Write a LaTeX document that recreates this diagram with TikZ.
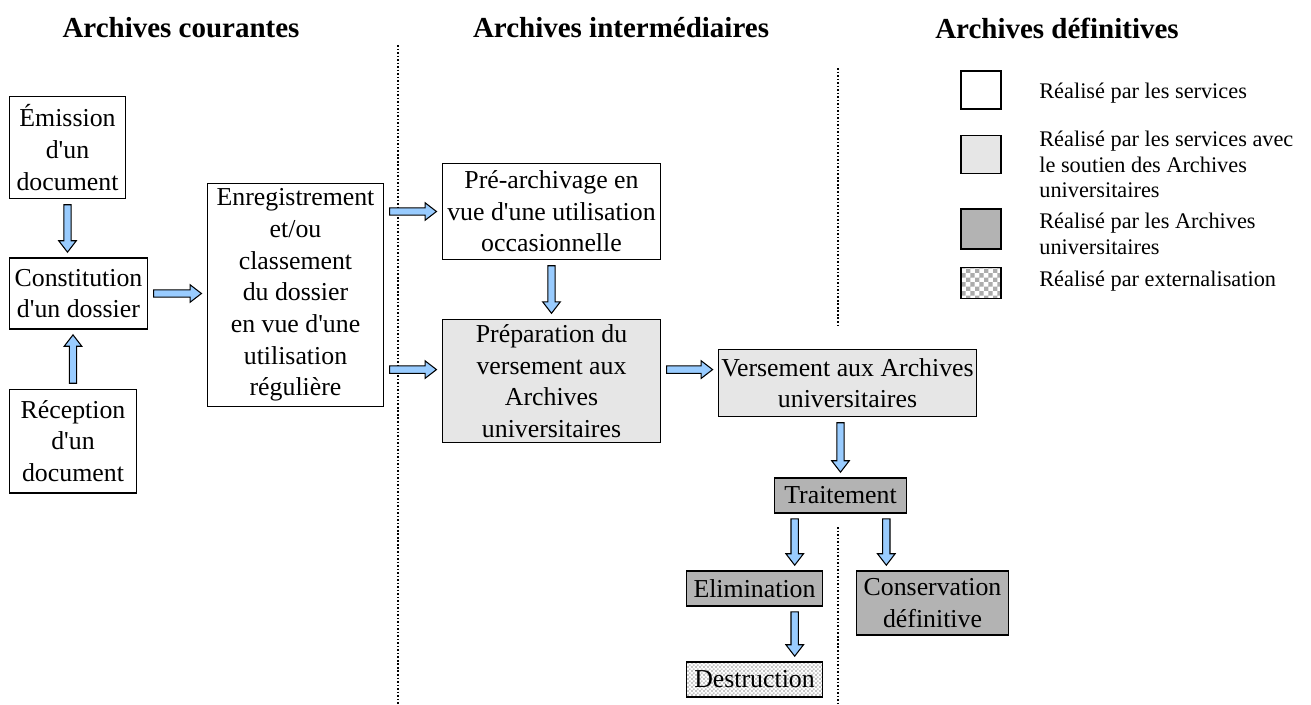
\documentclass[tikz,border=0pt]{standalone}
\usepackage{fontspec}
\setmainfont{Liberation Serif}[Ligatures=TeXOff]
\usetikzlibrary{calc,patterns}
\definecolor{arrowblue}{HTML}{99CCFF}
\definecolor{lightfill}{HTML}{E6E6E6}
\definecolor{darkfill}{HTML}{B3B3B3}
\pgfdeclarepatternformonly{smallchecker}{\pgfqpoint{0pt}{0pt}}{\pgfqpoint{2.4pt}{2.4pt}}{\pgfqpoint{2.4pt}{2.4pt}}{%
  \pgfpathrectangle{\pgfqpoint{0pt}{0pt}}{\pgfqpoint{1.2pt}{1.2pt}}%
  \pgfpathrectangle{\pgfqpoint{1.2pt}{1.2pt}}{\pgfqpoint{1.2pt}{1.2pt}}%
  \pgfusepath{fill}}
\pgfdeclarepatternformonly{legchecker}{\pgfqpoint{0pt}{0pt}}{\pgfqpoint{5pt}{5pt}}{\pgfqpoint{5pt}{5pt}}{%
  \pgfpathrectangle{\pgfqpoint{0pt}{0pt}}{\pgfqpoint{2.5pt}{2.5pt}}%
  \pgfpathrectangle{\pgfqpoint{2.5pt}{2.5pt}}{\pgfqpoint{2.5pt}{2.5pt}}%
  \pgfusepath{fill}}

\begin{document}
\begin{tikzpicture}[x=0.02cm,y=-0.02cm,
  box/.style={draw, line width=0.75pt, align=center, inner sep=0pt, font=\fontsize{14.7}{18}\selectfont},
  title/.style={font=\fontsize{16.5}{20}\selectfont\bfseries},
  legtext/.style={anchor=west, align=left, inner sep=0pt, font=\fontsize{12.7}{14.5}\selectfont},
  legbox/.style={draw, line width=0.75pt, minimum width=22.7pt, inner sep=0pt},
  sep/.style={line width=1pt, dash pattern=on 0.9pt off 1.1pt},
  barrow/.style={draw, fill=arrowblue, line width=0.6pt, to path={
    let \p1=($(\tikztostart)!3pt!(\tikztotarget)$), \p2=($(\tikztotarget)!3pt!(\tikztostart)$),
        \p3=($(\p2)!6.5pt!(\p1)$) in
    ($(\p1)!2.1pt!90:(\p2)$) -- ($(\p3)!2.1pt!-90:(\p1)$) -- ($(\p3)!5pt!-90:(\p1)$) -- (\p2)
    -- ($(\p3)!5pt!90:(\p1)$) -- ($(\p3)!2.1pt!90:(\p1)$) -- ($(\p1)!2.1pt!-90:(\p2)$) -- cycle}}
]
\useasboundingbox (0,0) rectangle (1311,704);

\node[title] (tcour) at (181,28) {Archives courantes};
\node[title] (tinter) at (621,28) {Archives intermédiaires};
\node[title] (tdef) at (1057,28) {Archives définitives};

\draw[sep] (398,45) -- (398,704);
\draw[sep] (838,68) -- (838,327);
\draw[sep] (838,527) -- (838,704);

\node[box, minimum width=66.3pt, minimum height=58.4pt] (emis) at (67.5,147.5) {Émission\\d'un\\document};
\node[box, minimum width=78.8pt, minimum height=40.3pt] (const) at (78.5,293.5) {Constitution\\d'un dossier};
\node[box, minimum width=72.6pt, minimum height=59pt] (recep) at (73,441) {Réception\\d'un\\document};
\node[box, minimum width=100.3pt, minimum height=127pt] (enreg) at (295.5,295) {Enregistrement\\et/ou\\classement\\du dossier\\en vue d'une\\utilisation\\régulière};
\node[box, minimum width=124.2pt, minimum height=55pt] (pre) at (551.5,211.5) {Pré-archivage en\\vue d'une utilisation\\occasionnelle};
\node[box, fill=lightfill, minimum width=124.2pt, minimum height=70.3pt] (prep) at (551.5,381) {Préparation du\\versement aux\\Archives\\universitaires};
\node[box, fill=lightfill, minimum width=146.8pt, minimum height=38.5pt] (vers) at (847.5,383) {Versement aux Archives\\universitaires};
\node[box, fill=darkfill, minimum width=75.4pt, minimum height=19.8pt] (trait) at (840.5,495.5) {Traitement};
\node[box, fill=darkfill, minimum width=77.7pt, minimum height=19.8pt] (elim) at (754.5,588.5) {Elimination};
\node[box, fill=darkfill, minimum width=86.7pt, minimum height=36.3pt] (cons) at (932.5,603) {Conservation\\définitive};
\node[box, preaction={fill=white}, pattern=smallchecker, pattern color=gray!45, minimum width=77.7pt, minimum height=19.8pt] (destr) at (754.5,679.5) {Destruction};

\coordinate (prepin) at ([yshift=6.5pt]prep.west);
\coordinate (prepout) at ([yshift=6.5pt]prep.east);
\coordinate (split) at ([xshift=12pt]trait.south west);
\coordinate (keep) at ([xshift=-12pt]trait.south east);

\draw[barrow] (emis.south) to (emis.south |- const.north);
\draw[barrow] (recep.north) to (recep.north |- const.south);
\draw[barrow] (const.east) to (const.east -| enreg.west);
\draw[barrow] (pre.west -| enreg.east) to (pre.west);
\draw[barrow] (prepin -| enreg.east) to (prepin);
\draw[barrow] (pre.south) to (pre.south |- prep.north);
\draw[barrow] (prepout) to (prepout -| vers.west);
\draw[barrow] (trait.north |- vers.south) to (trait.north);
\draw[barrow] (split) to (split |- elim.north);
\draw[barrow] (keep) to (keep |- cons.north);
\draw[barrow] (split |- elim.south) to (split |- destr.north);

\node[legbox, minimum height=21.5pt] (leg1) at (981,90) {};
\node[legtext] (txt1) at (1039,93) {Réalisé par les services};
\node[legbox, fill=lightfill, minimum height=22pt] (leg2) at (981,154.5) {};
\node[legtext, anchor=north west] (txt2) at (1039,131) {Réalisé par les services avec\\le soutien des Archives\\universitaires};
\node[legbox, fill=darkfill, minimum height=22.7pt] (leg3) at (981,229) {};
\node[legtext] (txt3) at (1039,234) {Réalisé par les Archives\\universitaires};
\node[legbox, preaction={fill=white}, pattern=legchecker, pattern color=gray!65, minimum height=18pt] (leg4) at (981,283) {};
\node[legtext] (txt4) at (1039,281) {Réalisé par externalisation};
\end{tikzpicture}
\end{document}
